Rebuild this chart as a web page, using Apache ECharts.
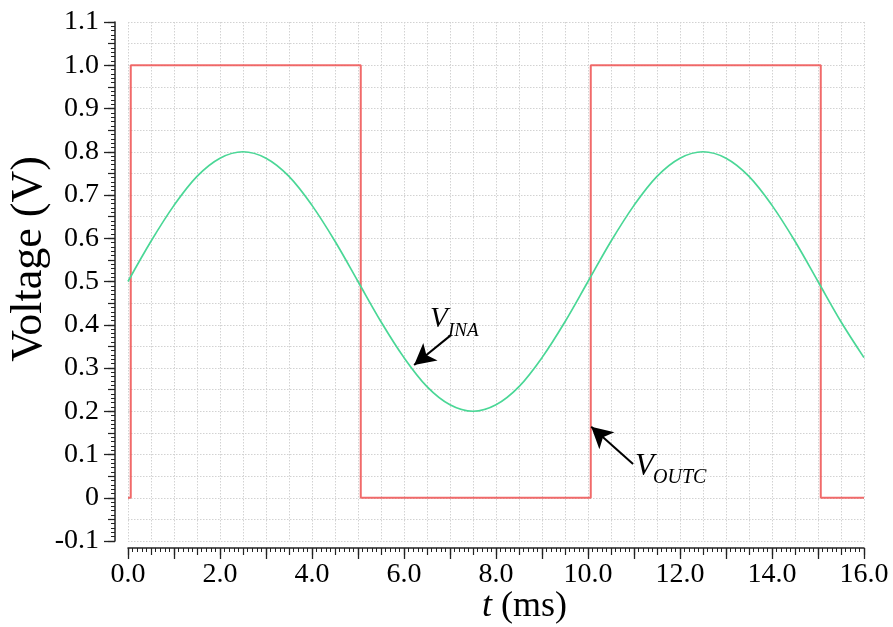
<!DOCTYPE html>
<html>
<head>
<meta charset="utf-8">
<script src="https://cdn.jsdelivr.net/npm/echarts@6/dist/echarts.min.js"></script>
<style>
  html, body { margin: 0; padding: 0; background: #fff; }
  #chart { width: 893px; height: 627px; }
</style>
</head>
<body>
<div id="chart"></div>
<script>
// Input sine V_INA sampled every 0.5 ms (V)
const sineT = [0, 0.5, 1, 1.5, 2, 2.5, 3, 3.5, 4, 4.5, 5, 5.5, 6, 6.5, 7, 7.5, 8,
               8.5, 9, 9.5, 10, 10.5, 11, 11.5, 12, 12.5, 13, 13.5, 14, 14.5, 15, 15.5, 16];
const sineV = [0.500, 0.593, 0.676, 0.743, 0.785, 0.800, 0.785, 0.743, 0.676, 0.593, 0.500,
               0.407, 0.324, 0.257, 0.215, 0.200, 0.215, 0.257, 0.324, 0.407, 0.500,
               0.593, 0.676, 0.743, 0.785, 0.800, 0.785, 0.743, 0.676, 0.593, 0.500,
               0.407, 0.324];

// Comparator output V_OUTC: corner points of the square wave
const outT = [0, 0.06, 0.06, 5.06, 5.06, 10.06, 10.06, 15.06, 15.06, 16];
const outV = [0, 0, 1, 1, 0, 0, 1, 1, 0, 0];

// Arrow annotations (data coordinates: tail -> head)
const inaArrow = [[7.02, 0.376], [6.22, 0.307]];
const outcArrow = [[10.98, 0.078], [10.07, 0.164]];

const xMin = 0, xMax = 16;
const yMin = -0.1, yMax = 1.1;

const serif = '"Liberation Serif", "DejaVu Serif", serif';
const gridLine = { show: true, lineStyle: { color: '#d2d2d2', width: 1, type: [1.5, 1.5] } };

const chart = echarts.init(document.getElementById('chart'), null, { renderer: 'canvas' });

const hidden = {
  axisLine: { show: false, onZero: false },
  axisTick: { show: false },
  axisLabel: { show: false }
};
const axisColor = '#222';

const option = {
  animation: false,
  backgroundColor: '#ffffff',
  grid: { left: 128, right: 29, top: 22, bottom: 86, containLabel: false },
  xAxis: [
    // grid lines every 0.5 ms
    Object.assign({ type: 'value', min: xMin, max: xMax, interval: 0.5, position: 'bottom',
      splitLine: gridLine }, hidden),
    // main tick axis with labels
    { type: 'value', min: xMin, max: xMax, interval: 1, position: 'bottom', offset: 7,
      splitLine: { show: false },
      axisLine: { show: true, onZero: false, lineStyle: { color: axisColor, width: 1.5 } },
      axisTick: { show: true, length: 11, lineStyle: { color: axisColor, width: 1.3 } },
      minorTick: { show: true, splitNumber: 10, length: 4, lineStyle: { color: axisColor, width: 1 } },
      axisLabel: { show: true, margin: 13, color: '#000', fontFamily: serif, fontSize: 28,
        formatter: v => (Math.round(v) % 2 === 0 ? v.toFixed(1) : '') } },
    // half-ms ticks
    { type: 'value', min: xMin, max: xMax, interval: 0.5, position: 'bottom', offset: 7,
      splitLine: { show: false },
      axisLine: { show: false, onZero: false },
      axisLabel: { show: false },
      axisTick: { show: true, length: 7, lineStyle: { color: axisColor, width: 1.2 } } }
  ],
  yAxis: [
    Object.assign({ type: 'value', min: yMin, max: yMax, interval: 0.05, position: 'left',
      splitLine: gridLine }, hidden),
    { type: 'value', min: yMin, max: yMax, interval: 0.1, position: 'left', offset: 13,
      splitLine: { show: false },
      axisLine: { show: true, onZero: false, lineStyle: { color: axisColor, width: 1.5 } },
      axisTick: { show: true, length: 11, lineStyle: { color: axisColor, width: 1.3 } },
      minorTick: { show: true, splitNumber: 10, length: 4, lineStyle: { color: axisColor, width: 1 } },
      axisLabel: { show: true, margin: 16, color: '#000', fontFamily: serif, fontSize: 28,
        formatter: v => { const r = Math.round(v * 10) / 10; return r === 0 ? '0' : r.toFixed(1); } } },
    { type: 'value', min: yMin, max: yMax, interval: 0.05, position: 'left', offset: 13,
      splitLine: { show: false },
      axisLine: { show: false, onZero: false },
      axisLabel: { show: false },
      axisTick: { show: true, length: 7, lineStyle: { color: axisColor, width: 1.2 } } }
  ],
  series: [
    {
      name: 'V_OUTC', type: 'line', xAxisIndex: 0, yAxisIndex: 0,
      data: outT.map((t, i) => [t, outV[i]]),
      showSymbol: false, symbol: 'none',
      lineStyle: { color: '#f05a5a', width: 2, opacity: 0.9 }, z: 3
    },
    {
      name: 'V_INA', type: 'line', xAxisIndex: 0, yAxisIndex: 0,
      data: sineT.map((t, i) => [t, sineV[i]]),
      smooth: 0.35, showSymbol: false, symbol: 'none',
      lineStyle: { color: '#4ad796', width: 1.7 }, z: 4,
      markLine: {
        silent: true, animation: false,
        symbol: ['none', 'arrow'], symbolSize: [17, 21],
        label: { show: false },
        lineStyle: { color: '#000', width: 2, type: 'solid' },
        data: [
          [{ coord: inaArrow[0] }, { coord: inaArrow[1] }],
          [{ coord: outcArrow[0] }, { coord: outcArrow[1] }]
        ]
      }
    }
  ]
};

chart.setOption(option);

// Axis titles and trace labels
function labelAt(dataPt) {
  return chart.convertToPixel({ xAxisIndex: 0, yAxisIndex: 0 }, dataPt);
}
const inaPos = labelAt(inaArrow[0]);
const outcPos = labelAt(outcArrow[0]);
const italic = { fontFamily: serif, fontStyle: 'italic', fill: '#000' };

chart.setOption({
  graphic: [
    { type: 'text', x: 29, y: 259, rotation: Math.PI / 2,
      style: { text: 'Voltage (V)', fontFamily: serif, fontSize: 44, fill: '#000', align: 'center', verticalAlign: 'middle' } },
    { type: 'text', x: 482, y: 607,
      style: { text: 't', fontFamily: serif, fontStyle: 'italic', fontSize: 36, fill: '#000', align: 'left', verticalAlign: 'middle' } },
    { type: 'text', x: 492, y: 607,
      style: { text: ' (ms)', fontFamily: serif, fontSize: 36, fill: '#000', align: 'left', verticalAlign: 'middle' } },
    { type: 'text', x: inaPos[0] - 21, y: inaPos[1] - 16,
      style: Object.assign({ text: 'V', fontSize: 29, align: 'left', verticalAlign: 'middle' }, italic) },
    { type: 'text', x: inaPos[0] - 3, y: inaPos[1] - 4,
      style: Object.assign({ text: 'INA', fontSize: 19, align: 'left', verticalAlign: 'middle' }, italic) },
    { type: 'text', x: outcPos[0] + 2, y: outcPos[1] + 3,
      style: Object.assign({ text: 'V', fontSize: 31, align: 'left', verticalAlign: 'middle' }, italic) },
    { type: 'text', x: outcPos[0] + 20, y: outcPos[1] + 14,
      style: Object.assign({ text: 'OUTC', fontSize: 20, align: 'left', verticalAlign: 'middle' }, italic) }
  ]
});
</script>
</body>
</html>
